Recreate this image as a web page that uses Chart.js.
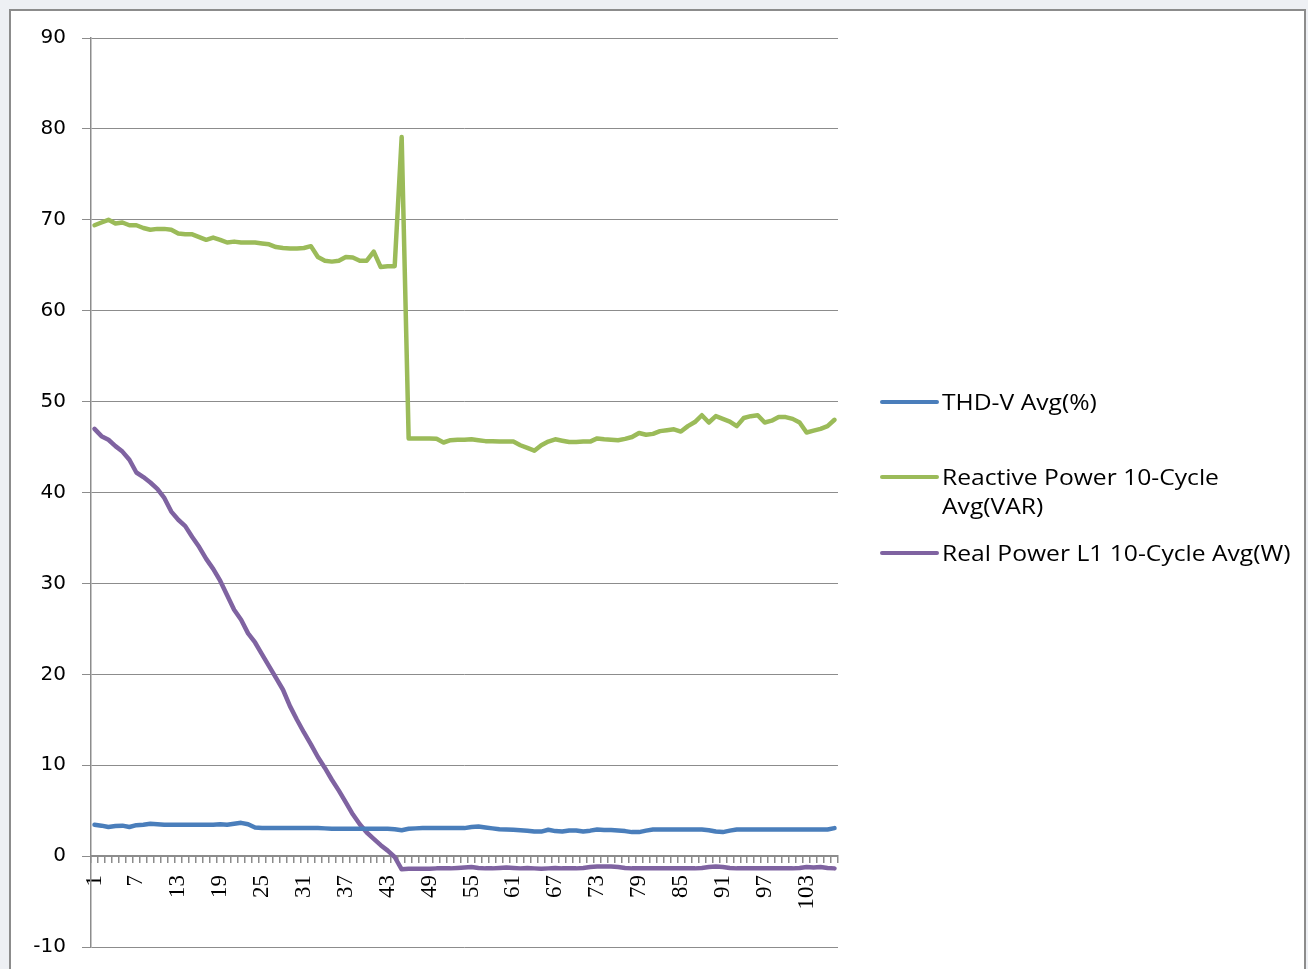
<!DOCTYPE html>
<html>
<head>
<meta charset="utf-8">
<title>Power quality trend</title>
<script src="https://cdn.jsdelivr.net/npm/chart.js@4.4.1/dist/chart.umd.min.js"></script>
<style>
  html, body { margin: 0; padding: 0; background: #eef0f4; overflow: hidden; }
  #frame {
    position: absolute; left: 9px; top: 9px; width: 1297px; height: 980px;
    background: #ffffff; box-sizing: border-box;
    border-left: 2px solid #8c8c8c; border-top: 2px solid #8c8c8c; border-right: 2px solid #8c8c8c;
  }
  #chart { position: absolute; left: 0; top: 0; }
</style>
</head>
<body>
<div id="frame"></div>
<canvas id="chart" width="1308" height="969"></canvas>
<script>
// Sample index (1..107)
const categories = Array.from({ length: 107 }, (_, i) => String(i + 1));

// Category labels shown under the axis
const xTickLabels = ['1', '7', '13', '19', '25', '31', '37', '43', '49', '55', '61', '67', '73', '79', '85', '91', '97', '103'];

// Value axis ticks
const yTicks = [-10, 0, 10, 20, 30, 40, 50, 60, 70, 80, 90];

// Series names, legend lines
const seriesNames = ['THD-V Avg(%)', 'Reactive Power 10-Cycle Avg(VAR)', 'Real Power L1 10-Cycle Avg(W)'];
const legendLines = [['THD-V Avg(%)'], ['Reactive Power 10-Cycle', 'Avg(VAR)'], ['Real Power L1 10-Cycle Avg(W)']];

// THD-V Avg(%)
const thdV = [
  3.45, 3.35, 3.2, 3.3, 3.35, 3.2, 3.4, 3.45, 3.55, 3.5,
  3.45, 3.45, 3.45, 3.45, 3.45, 3.45, 3.45, 3.45, 3.5, 3.45,
  3.55, 3.66, 3.5, 3.15, 3.1, 3.1, 3.1, 3.1, 3.1, 3.1,
  3.1, 3.1, 3.1, 3.05, 3.0, 3.0, 3.0, 3.0, 3.0, 3.0,
  3.0, 3.0, 3.0, 2.95, 2.85, 3.0, 3.05, 3.08, 3.08, 3.08,
  3.08, 3.08, 3.08, 3.08, 3.2, 3.25, 3.15, 3.05, 2.95, 2.93,
  2.9, 2.85, 2.8, 2.7, 2.7, 2.9, 2.75, 2.7, 2.82, 2.82,
  2.7, 2.8, 2.93, 2.88, 2.88, 2.82, 2.75, 2.64, 2.64, 2.8,
  2.93, 2.93, 2.93, 2.93, 2.93, 2.93, 2.93, 2.93, 2.85, 2.7,
  2.64, 2.8, 2.93, 2.93, 2.93, 2.93, 2.93, 2.93, 2.93, 2.93,
  2.93, 2.93, 2.93, 2.93, 2.93, 2.93, 3.08
];

// Reactive Power 10-Cycle Avg(VAR)
const reactivePower = [
  69.4, 69.7, 70.0, 69.6, 69.7, 69.4, 69.4, 69.1, 68.9, 69.0,
  69.0, 68.9, 68.5, 68.4, 68.4, 68.1, 67.8, 68.05, 67.8, 67.5,
  67.6, 67.5, 67.5, 67.5, 67.4, 67.3, 67.0, 66.9, 66.85, 66.85,
  66.9, 67.1, 65.9, 65.5, 65.4, 65.5, 65.9, 65.85, 65.5, 65.5,
  66.5, 64.8, 64.9, 64.9, 79.1, 45.95, 45.95, 45.95, 45.95, 45.9,
  45.5, 45.75, 45.8, 45.8, 45.85, 45.75, 45.65, 45.65, 45.6, 45.6,
  45.6, 45.2, 44.9, 44.6, 45.2, 45.6, 45.85, 45.7, 45.55, 45.55,
  45.6, 45.6, 45.95, 45.85, 45.8, 45.75, 45.9, 46.1, 46.55, 46.35,
  46.45, 46.75, 46.85, 46.95, 46.7, 47.3, 47.75, 48.5, 47.7, 48.4,
  48.1, 47.8, 47.3, 48.2, 48.4, 48.5, 47.7, 47.9, 48.3, 48.3,
  48.1, 47.7, 46.6, 46.8, 47.0, 47.3, 48.0
];

// Real Power L1 10-Cycle Avg(W)
const realPowerL1 = [
  47.0, 46.2, 45.8, 45.1, 44.5, 43.6, 42.2, 41.7, 41.1, 40.4,
  39.4, 37.9, 37.0, 36.3, 35.1, 34.0, 32.7, 31.6, 30.3, 28.7,
  27.1, 26.0, 24.5, 23.5, 22.2, 20.9, 19.6, 18.3, 16.5, 15.0,
  13.6, 12.3, 10.9, 9.7, 8.4, 7.2, 5.9, 4.6, 3.5, 2.6,
  1.9, 1.2, 0.6, -0.1, -1.45, -1.4, -1.4, -1.4, -1.4, -1.35,
  -1.35, -1.35, -1.3, -1.25, -1.2, -1.3, -1.35, -1.35, -1.3, -1.25,
  -1.3, -1.35, -1.3, -1.35, -1.4, -1.35, -1.3, -1.35, -1.35, -1.35,
  -1.3, -1.2, -1.15, -1.15, -1.15, -1.2, -1.3, -1.35, -1.35, -1.35,
  -1.35, -1.35, -1.35, -1.35, -1.35, -1.35, -1.35, -1.3, -1.2, -1.15,
  -1.2, -1.3, -1.35, -1.35, -1.35, -1.35, -1.35, -1.35, -1.35, -1.35,
  -1.35, -1.3, -1.2, -1.25, -1.2, -1.3, -1.35
];

const seriesColors = ['#4a7ebb', '#9bbb59', '#7f63a1'];
const axisGray = '#8c8c8c';

// Legend drawn at the right of the plot: line sample + (wrapped) text
const sideLegend = {
  id: 'sideLegend',
  afterDraw(chart, args, opts) {
    const ctx = chart.ctx;
    ctx.save();
    ctx.font = opts.font;
    ctx.fillStyle = '#000000';
    ctx.textBaseline = 'alphabetic';
    ctx.textAlign = 'left';
    chart.data.datasets.forEach((ds, i) => {
      const top = opts.rows[i];
      ctx.strokeStyle = ds.borderColor;
      ctx.lineWidth = 4;
      ctx.lineCap = 'round';
      ctx.beginPath();
      ctx.moveTo(opts.lineStart, top);
      ctx.lineTo(opts.lineEnd, top);
      ctx.stroke();
      legendLines[i].forEach((txt, j) => {
        ctx.save();
        ctx.translate(opts.textX, top + opts.baselineOffset + j * opts.lineHeight);
        ctx.scale(opts.stretch, 1);
        ctx.fillText(txt, 0, 0);
        ctx.restore();
      });
    });
    ctx.restore();
  }
};

const makeSeries = (label, data, color) => ({
  label, data,
  borderColor: color,
  backgroundColor: color,
  borderWidth: 4.5,
  pointRadius: 0,
  pointHoverRadius: 0,
  tension: 0,
  borderJoinStyle: 'round',
  borderCapStyle: 'round',
  fill: false
});

// Keep the plot box fixed: axis label overhang must not shrink it
const noOverhang = (scale) => {
  scale.paddingTop = 0;
  scale.paddingBottom = 0;
  scale.paddingLeft = 0;
  scale.paddingRight = 0;
};

new Chart(document.getElementById('chart'), {
  type: 'line',
  data: {
    labels: categories,
    datasets: [
      makeSeries(seriesNames[0], thdV, seriesColors[0]),
      makeSeries(seriesNames[1], reactivePower, seriesColors[1]),
      makeSeries(seriesNames[2], realPowerL1, seriesColors[2])
    ]
  },
  options: {
    responsive: false,
    animation: false,
    devicePixelRatio: 1,
    layout: { padding: { left: 0, top: 38, right: 470, bottom: 22 } },
    plugins: {
      legend: { display: false },
      tooltip: { enabled: false },
      sideLegend: {
        font: '22px "Open Sans"',
        stretch: 1.12,
        rows: [402, 477, 553],
        lineStart: 882,
        lineEnd: 937,
        textX: 942,
        baselineOffset: 8,
        lineHeight: 29
      }
    },
    scales: {
      x: {
        type: 'category',
        offset: true,
        position: { y: 0 },
        afterFit(scale) { scale.height = 0; noOverhang(scale); },
        grid: {
          offset: true,
          drawOnChartArea: false,
          drawTicks: true,
          tickLength: 6,
          color: axisGray,
          lineWidth: 1.5
        },
        border: { display: true, color: axisGray, width: 2 },
        ticks: {
          autoSkip: false,
          minRotation: 90,
          maxRotation: 90,
          padding: 13,
          color: '#000000',
          font: { family: '"Liberation Serif"', size: 23 },
          callback(value) {
            const lbl = this.getLabelForValue(value);
            return xTickLabels.includes(lbl) ? lbl : '';
          }
        }
      },
      y: {
        min: yTicks[0],
        max: yTicks[yTicks.length - 1],
        afterFit(scale) { scale.width = 91; noOverhang(scale); },
        afterBuildTicks(scale) { scale.ticks = yTicks.map(v => ({ value: v })); },
        grid: {
          color: axisGray,
          lineWidth: 1,
          drawTicks: true,
          tickLength: 9
        },
        border: { display: true, color: axisGray, width: 1.5 },
        ticks: {
          padding: 16,
          color: '#000000',
          font: { family: '"DejaVu Sans"', size: 20 }
        }
      }
    }
  },
  plugins: [sideLegend]
});
</script>
</body>
</html>
